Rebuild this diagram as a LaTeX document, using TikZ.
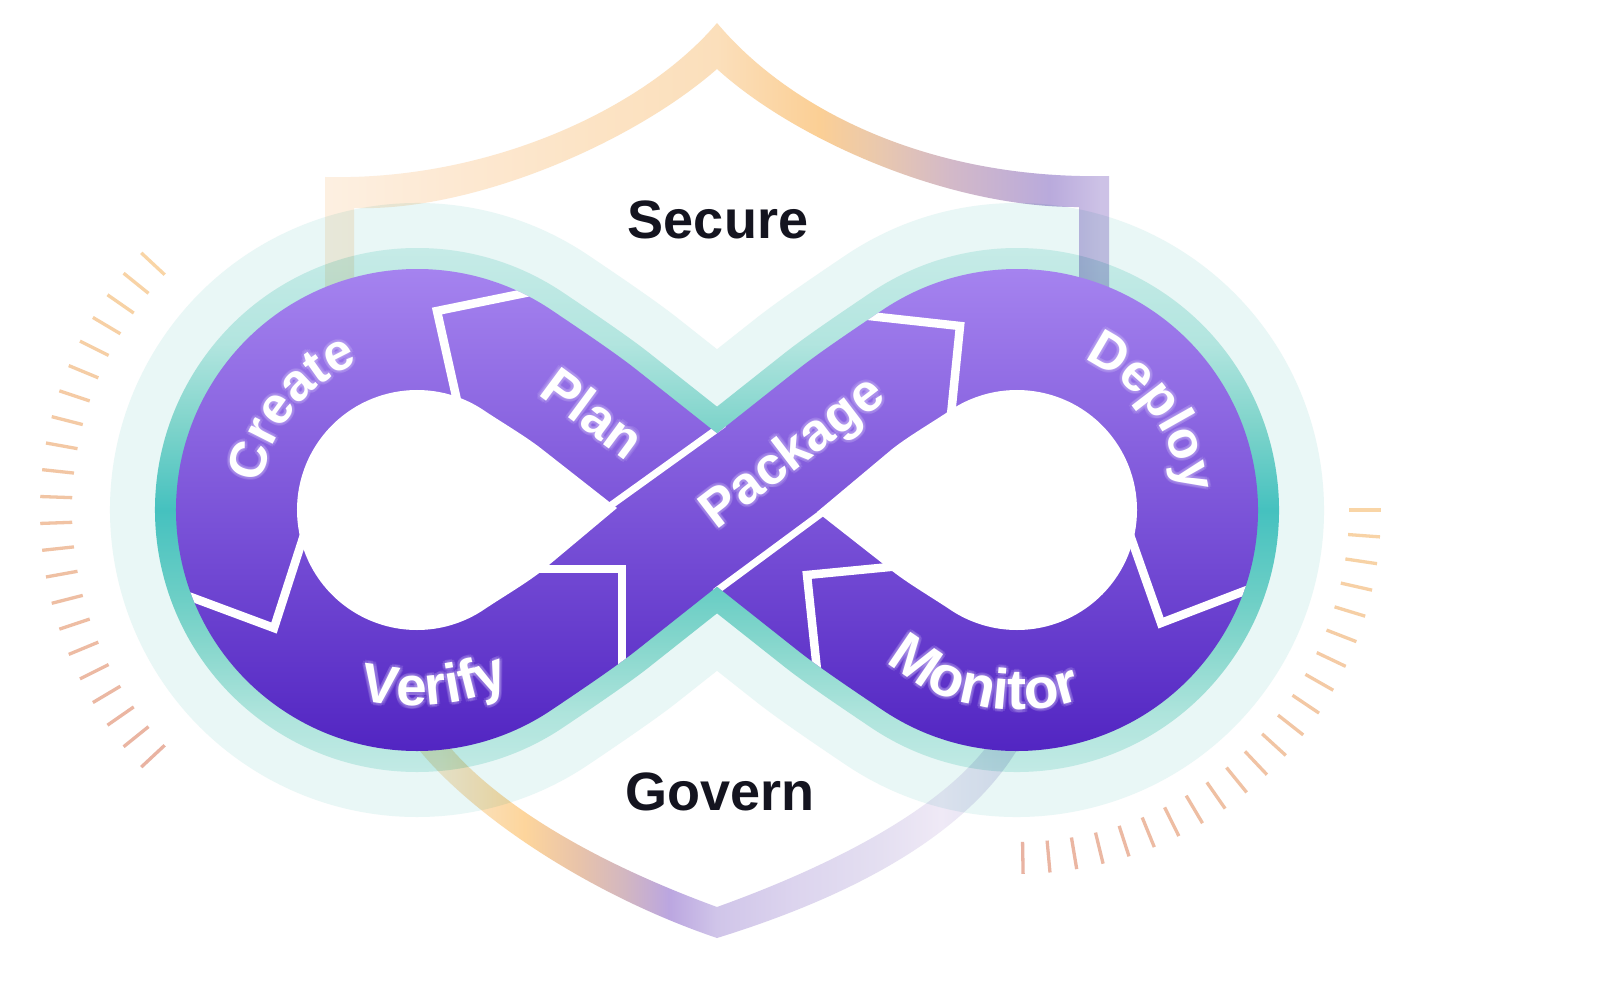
\documentclass[tikz,border=0pt]{standalone}
\usepackage{fontspec}
\usetikzlibrary{decorations.text}
\setmainfont{Liberation Sans}
\newfontfamily\labfont{Liberation Sans Bold}
\definecolor{paleT}{HTML}{E9F7F6}
\definecolor{ta}{HTML}{C6EBE7}
\definecolor{tb}{HTML}{B2E5DF}
\definecolor{tc}{HTML}{7FD4CB}
\definecolor{td}{HTML}{45C1BF}
\definecolor{te}{HTML}{6ECFC6}
\definecolor{tf}{HTML}{8AD8CE}
\definecolor{tg}{HTML}{AEE4DC}
\definecolor{th}{HTML}{C2EAE5}
\definecolor{purA}{HTML}{A583EF}
\definecolor{purB}{HTML}{5225C2}
\definecolor{inkK}{HTML}{14141F}
\definecolor{haloC}{HTML}{D6C8FA}
\definecolor{tickA}{HTML}{F9D5A6}
\definecolor{tickB}{HTML}{E9B3A2}
\definecolor{sa}{HTML}{FDF0E2}
\definecolor{sb}{HTML}{FDE9D3}
\definecolor{sc}{HTML}{FCE3C4}
\definecolor{sd}{HTML}{FBDFBB}
\definecolor{se}{HTML}{FBCF95}
\definecolor{sf}{HTML}{E9C8AE}
\definecolor{sg}{HTML}{D3B9C8}
\definecolor{sh}{HTML}{B9AADC}
\definecolor{si}{HTML}{CDC2E6}
\definecolor{ba}{HTML}{F9E8CE}
\definecolor{bb}{HTML}{FDD59C}
\definecolor{bc}{HTML}{E8C3AA}
\definecolor{bd}{HTML}{D3B7C0}
\definecolor{be}{HTML}{BBA6E0}
\definecolor{bf}{HTML}{D0C5E9}
\definecolor{bg}{HTML}{DCD4EE}
\definecolor{bh}{HTML}{E4DFF1}
\definecolor{bi}{HTML}{EFE9F6}
\definecolor{bj}{HTML}{DFE0F0}
\pgfdeclarehorizontalshading{shieldtop}{100bp}{color(0bp)=(sa); color(35bp)=(sa); color(39bp)=(sb); color(43.75bp)=(sc); color(47.4bp)=(sd); color(50.6bp)=(se); color(52.5bp)=(sf); color(54.7bp)=(sg); color(57.8bp)=(sh); color(59.4bp)=(si); color(100bp)=(si)}
\pgfdeclarehorizontalshading{shieldbot}{100bp}{color(0bp)=(ba); color(38.75bp)=(ba); color(41.4bp)=(bb); color(43.1bp)=(bc); color(44.5bp)=(bd); color(45.9bp)=(be); color(47.4bp)=(bf); color(49.8bp)=(bg); color(52.5bp)=(bh); color(54.4bp)=(bi); color(56.6bp)=(bj); color(100bp)=(bj)}
\pgfdeclareverticalshading{tealband}{100bp}{color(0bp)=(th); color(25bp)=(th); color(30.6bp)=(tg); color(36.6bp)=(tf); color(41.4bp)=(te); color(50bp)=(td); color(58.1bp)=(tc); color(65.9bp)=(tb); color(75bp)=(ta); color(100bp)=(ta)}
% outline numbers for an offset #1 from the centre line, blend length #2
\newcommand\calcshape[2]{%
  \pgfmathsetmacro\RR{181+#1}\pgfmathsetmacro\DD{186.3+#1}%
  \pgfmathsetmacro\kk{#2/3}%
  \pgfmathsetmacro\vv{abs(#1)/0.7837}%
  \pgfmathsetmacro\px{-300+0.5592*\RR}\pgfmathsetmacro\py{0.8290*\RR}%
  \pgfmathsetmacro\ax{\px+\kk*0.8290}\pgfmathsetmacro\ay{\py-\kk*0.5592}%
  \pgfmathsetmacro\qx{-300+0.6211*\DD+#2*0.7837}\pgfmathsetmacro\qy{0.7837*\DD-#2*0.6211}%
  \pgfmathsetmacro\bx{\qx-\kk*0.7837}\pgfmathsetmacro\by{\qy+\kk*0.6211}%
  \pgfmathsetmacro\mx{-\px}\pgfmathsetmacro\nx{-\ax}\pgfmathsetmacro\ox{-\bx}\pgfmathsetmacro\rx{-\qx}%
}
\newcommand\peanutpath{(0,-\vv) -- (\qx,-\qy) .. controls (\bx,-\by) and (\ax,-\ay) .. (\px,-\py)
  arc[start angle=-56,end angle=-304,radius=\RR]
  .. controls (\ax,\ay) and (\bx,\by) .. (\qx,\qy) -- (0,\vv) -- (\rx,\qy)
  .. controls (\ox,\by) and (\nx,\ay) .. (\mx,\py)
  arc[start angle=124,end angle=-124,radius=\RR]
  .. controls (\nx,-\ay) and (\ox,-\by) .. (\rx,-\qy) -- cycle}
\newcommand\holepath{(-100,\apy) -- (\qx,-\qy) .. controls (\bx,-\by) and (\ax,-\ay) .. (\px,-\py)
  arc[start angle=-56,end angle=-304,radius=\RR]
  .. controls (\ax,\ay) and (\bx,\by) .. (\qx,\qy) -- cycle}
\tikzset{
  whiteline/.style={draw=white,line width=8.5pt,line join=miter},
  splitline/.style={draw=white,line width=7pt},
  ticku/.style={line width=3.3pt},
  head/.style={text=inkK,font=\labfont\fontsize{54}{60}\selectfont,anchor=base,inner sep=0pt},
  band/.style={font=\labfont\fontsize{53}{60}\selectfont,anchor=base,inner sep=0pt},
}
\newcommand\arctext[7]{% colour, size, centre, radius, start, end, text
  \path[shift={#3},decorate,decoration={text along path,text align=center,
      text={|\color{#1}\labfont\fontsize{#2}{60}\selectfont|#7}}]
      (#5:#4) arc[start angle=#5,end angle=#6,radius=#4];}
\newcommand\arclabel[6]{% size, centre, radius, start, end, text
  \begin{scope}[opacity=0.16]
    \foreach \dx/\dy in {3/0,-3/0,0/3,0/-3,2.1/2.1,-2.1/2.1,2.1/-2.1,-2.1/-2.1}{
      \begin{scope}[shift={(\dx,\dy)}]\arctext{haloC}{#1}{#2}{#3}{#4}{#5}{#6}\end{scope}}
  \end{scope}
  \arctext{white}{#1}{#2}{#3}{#4}{#5}{#6}}
\newcommand\strlabel[4]{% name, rotation, position, text
  \foreach \dx/\dy in {3/0,-3/0,0/3,0/-3,2.1/2.1,-2.1/2.1,2.1/-2.1,-2.1/-2.1}{
    \begin{scope}[shift={(\dx,\dy)}]
      \path node[band,rotate=#2,text=haloC,text opacity=0.16] at #3 {#4};
    \end{scope}}
  \node[band,rotate=#2,text=white] (#1) at #3 {#4};}
\begin{document}
\begin{tikzpicture}[x=1pt,y=-1pt]
\useasboundingbox (0,0) rectangle (1600,1003);
\fill[white] (0,0) rectangle (1600,1003);
% ticks
\foreach \i in {0,...,21}{
  \pgfmathsetmacro\tt{-137-4.095*\i}
  \pgfmathsetmacro\pp{100-100*\i/21}
  \colorlet{tickc}{tickA!\pp!tickB}
  \draw[ticku,tickc,shift={(417,510)}] (\tt:345) -- (\tt:377);
  \pgfmathsetmacro\tr{4.24*\i}
  \draw[ticku,tickc,shift={(1017,510)}] (\tr:332) -- (\tr:364);
}
% pale and teal halos
\begin{scope}[shift={(717,510)}]
  \calcshape{126}{85}
  \fill[paleT] \peanutpath;
  \calcshape{81}{85}
  \begin{scope}
    \clip \peanutpath;
    \shade[shading=tealband] (-717,-262) rectangle (883,262);
  \end{scope}
\end{scope}
% shield
\begin{scope}[blend mode=multiply]
  \begin{scope}
    \clip (717,23) .. controls (645,108) and (490,181) .. (325,177)
      -- (325,300) -- (354,300) -- (354,208)
      .. controls (470,212) and (630,145) .. (717,69)
      .. controls (795,140) and (950,208) .. (1079,207)
      -- (1079,300) -- (1109,300) -- (1109,176)
      .. controls (930,180) and (790,110) .. (717,23) -- cycle;
    \shade[shading=shieldtop] (0,0) rectangle (1600,320);
  \end{scope}
  \begin{scope}
    \clip (415,745) .. controls (470,815) and (590,895) .. (717,938)
      .. controls (840,900) and (965,840) .. (1020,745)
      -- (988,745) .. controls (935,815) and (820,870) .. (717,907)
      .. controls (575,855) and (490,795) .. (448,745) -- cycle;
    \shade[shading=shieldbot] (0,700) rectangle (1600,960);
  \end{scope}
\end{scope}
% purple ribbon, white dividers, holes
\begin{scope}[shift={(717,510)}]
  \calcshape{60}{85}
  \begin{scope}
    \clip \peanutpath;
    \shade[top color=purA,bottom color=purB] (-717,-241) rectangle (883,241);
    \begin{scope}[shift={(-717,-510)}]
      \draw[whiteline] (540,290) -- (437,311) -- (458,405);
      \draw[splitline] (724,424) -- (603,511);
      \draw[whiteline] (525,569) -- (622,569) -- (622,665);
      \draw[whiteline] (304,535) -- (274,628) -- (180,593);
      \draw[whiteline] (860,315) -- (960,326) -- (951,415);
      \draw[splitline] (830,507) -- (715,592);
      \draw[whiteline] (900,566) -- (807,575) -- (817,670);
      \draw[whiteline] (1130,535) -- (1161,623) -- (1260,585);
    \end{scope}
  \end{scope}
  \calcshape{-61}{60}
  \foreach \s/\apy in {1/-2,-1/2}{
    \fill[white,xscale=\s] \holepath;
  }
\end{scope}
% labels
\arclabel{52}{(417,510)}{158}{-221}{-61}{Create}
\arclabel{52}{(1017,510)}{165}{-116}{44}{Deploy}
\arclabel{55}{(413,466)}{240}{154.5}{14.5}{Verify}
\arclabel{57}{(1017,510)}{200}{181}{21}{Monitor}
\strlabel{plan}{-36.5}{(582,428)}{Plan}
\strlabel{package}{37.4}{(802,465)}{Package}
\node[head] (secure) at (718,238) {Secure};
\node[head] (govern) at (720,810) {Govern};
\end{tikzpicture}
\end{document}
